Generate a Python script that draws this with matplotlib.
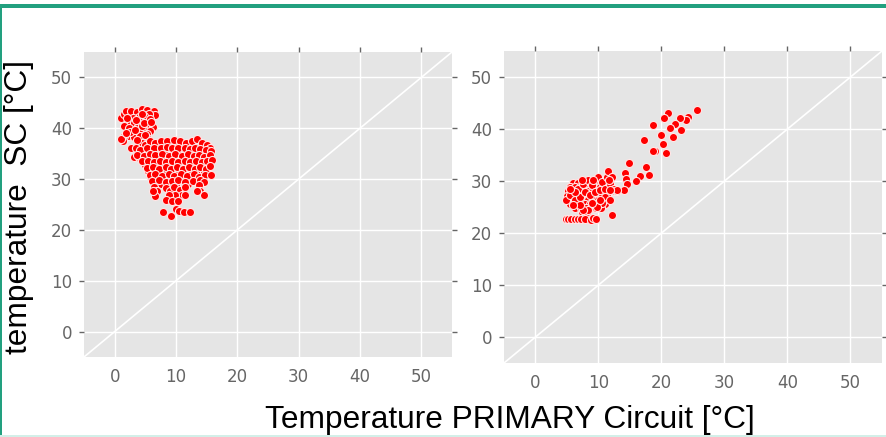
import matplotlib
matplotlib.use("Agg")
import matplotlib.pyplot as plt
from matplotlib.patches import Rectangle

# ---------------- data ----------------
ticks = [0, 10, 20, 30, 40, 50]
limits = [-5, 55]
diag = [-5, 55]

# left panel (head)
left_head_x = [1.1, 1.6, 1.9, 2.7, 3.6, 4.4, 5.3, 6.4, 6.5, 5.6, 4.8, 3.9, 3.0, 2.2, 3.1, 4.2,
               5.3, 6.3, 1.5, 2.3, 3.7, 4.8, 5.7, 3.9, 2.9, 2.1, 3.1, 1.5, 1.4, 1.1, 4.2, 5.3,
               5.3, 4.5, 3.6, 2.7, 3.4, 3.1, 3.9,
               2.0, 3.5, 4.5, 5.8, 2.5, 4.4, 1.8, 3.3, 4.8, 6.0, 5.0]
left_head_y = [42.0, 42.8, 43.3, 43.4, 43.1, 43.7, 43.5, 43.4, 42.6, 42.8, 42.5, 42.2, 42.1, 41.4, 41.0, 41.3,
               40.7, 40.3, 40.5, 40.1, 40.0, 39.7, 39.5, 39.2, 38.7, 38.4, 38.2, 38.4, 37.4, 37.9, 38.4, 38.8,
               38.0, 37.1, 37.7, 36.1, 36.1, 34.4, 34.4,
               42.0, 41.6, 42.8, 41.8, 39.3, 40.5, 39.0, 39.6, 41.0, 41.2, 38.6]

# left panel (body rows)
left_body_x = [5.0, 5.8, 6.6, 7.5, 8.5, 9.6, 10.7, 11.7, 12.6, 13.4, 14.2, 15.1, 15.6,
               4.2, 5.3, 6.4, 7.5, 8.5, 9.4, 10.4, 11.5, 12.3, 13.1, 13.9, 14.9, 15.7,
               3.7, 4.8, 5.7, 6.6, 7.7, 8.8, 9.9, 11.0, 11.9, 12.9, 13.8, 14.6, 15.5,
               4.5, 5.4, 6.4, 7.4, 8.3, 9.4, 10.3, 11.4, 12.3, 13.3, 14.2, 15.1, 15.8,
               5.3, 6.3, 7.2, 8.3, 9.2, 10.2, 11.1, 12.1, 13.1, 13.9, 14.9, 15.6,
               5.7, 6.6, 7.7, 8.8, 9.7, 10.8, 11.8, 12.9, 13.8, 14.8, 15.7,
               6.1, 7.2, 8.3, 9.4, 10.4, 11.5, 12.8, 13.9, 14.6]
left_body_y = [36.7, 37.4, 37.1, 37.4, 37.5, 37.7, 37.4, 37.1, 37.4, 37.9, 37.1, 36.7, 36.1,
               35.7, 36.1, 36.2, 36.1, 36.4, 36.1, 36.2, 36.1, 35.9, 36.1, 35.9, 35.7, 35.5,
               34.8, 34.6, 34.9, 34.8, 34.9, 34.6, 34.9, 34.6, 34.9, 34.6, 34.8, 34.4, 34.8,
               33.5, 33.6, 33.3, 33.6, 33.3, 33.6, 33.3, 33.6, 33.3, 33.6, 33.3, 33.6, 33.8,
               32.1, 32.3, 32.0, 32.3, 32.0, 32.3, 32.0, 32.3, 32.0, 32.3, 32.0, 32.5,
               30.8, 31.0, 30.7, 31.0, 30.7, 31.0, 30.7, 31.0, 30.5, 30.8, 30.8,
               29.7, 29.8, 29.4, 29.7, 29.8, 29.4, 29.7, 29.8, 29.4]

# left panel (dense filler inside the body)
left_fill_x = [6.0, 7.0, 8.0, 9.0, 10.0, 11.0, 12.0, 13.0, 14.0, 15.0,
               4.5, 5.5, 6.5, 7.5, 8.5, 9.5, 10.5, 11.5, 12.5, 13.5, 14.5,
               4.0, 5.0, 6.0, 7.0, 8.0, 9.0, 10.0, 11.0, 12.0, 13.0, 14.0, 15.0,
               5.0, 6.0, 7.0, 8.0, 9.0, 10.0, 11.0, 12.0, 13.0, 14.0, 15.3,
               5.5, 6.5, 7.5, 8.5, 9.5, 10.5, 11.5, 12.5, 13.5, 14.5,
               6.0, 7.0, 8.0, 9.0, 10.0, 11.0, 12.0, 13.0,
               6.5, 7.5, 8.5, 10.0, 12.0]
left_fill_y = [36.8, 36.8, 36.8, 36.8, 36.8, 36.8, 36.8, 36.8, 36.8, 36.8,
               35.4, 35.4, 35.4, 35.4, 35.4, 35.4, 35.4, 35.4, 35.4, 35.4, 35.4,
               34.1, 34.1, 34.1, 34.1, 34.1, 34.1, 34.1, 34.1, 34.1, 34.1, 34.1, 34.1,
               32.8, 32.8, 32.8, 32.8, 32.8, 32.8, 32.8, 32.8, 32.8, 32.8, 32.8,
               31.5, 31.5, 31.5, 31.5, 31.5, 31.5, 31.5, 31.5, 31.5, 31.5,
               30.2, 30.2, 30.2, 30.2, 30.2, 30.2, 30.2, 30.2,
               29.0, 29.0, 29.0, 29.0, 29.0]

# left panel (legs and lowest points)
left_legs_x = [6.4, 6.9, 6.6, 6.2, 8.3, 9.1, 9.6, 10.7, 11.5, 11.0, 9.9, 8.8, 8.3, 9.4, 10.4,
               11.5, 13.7, 13.9, 14.6, 13.4,
               7.9, 9.2, 10.0, 10.5, 11.3, 12.3]
left_legs_y = [28.5, 27.6, 26.6, 27.6, 28.3, 27.6, 28.5, 27.9, 28.5, 26.9, 26.9, 26.9, 25.9, 25.7, 25.7,
               26.9, 28.9, 27.6, 26.9, 27.6,
               23.6, 22.8, 24.1, 23.7, 23.6, 23.5]

# right panel (sparse upper branch)
right_upper_x = [25.6, 24.2, 23.9, 22.9, 22.1, 23.1, 21.1, 20.4, 21.3, 21.9, 20.0, 18.7, 20.2,
                 17.3, 19.0, 18.6, 20.7, 17.5, 18.0, 16.6, 16.0, 14.9, 14.2, 14.4, 14.5, 14.0,
                 12.2, 11.5, 12.2, 11.6, 12.5, 12.9, 11.8]
right_upper_y = [43.7, 42.4, 41.7, 42.1, 41.0, 39.8, 43.0, 42.1, 40.2, 38.4, 38.9, 40.8, 37.1,
                 37.9, 35.7, 35.7, 35.4, 32.7, 31.1, 30.9, 30.0, 33.4, 31.6, 30.4, 29.5, 28.3,
                 23.4, 32.0, 30.8, 30.1, 28.5, 28.2, 28.2]

# right panel (main cluster, distinct dots)
right_cluster_x = [4.9, 5.5, 6.3, 7.1, 6.8, 7.6, 8.4, 10.0, 10.5, 9.0, 7.9, 8.7, 9.5, 10.3, 11.1,
                   11.8, 11.1, 11.8, 10.5, 9.7, 8.4, 7.6, 7.1, 6.0, 8.9, 10.3, 6.3, 5.5, 7.4, 9.2,
                   11.3,
                   4.8, 5.2, 5.7, 6.2, 6.7, 7.2, 7.9, 8.8, 9.1, 9.6]
right_cluster_y = [26.3, 27.3, 26.3, 26.9, 28.5, 29.5, 30.1, 30.8, 29.8, 29.2, 27.9, 27.3, 27.9, 28.2, 28.5,
                   29.5, 26.9, 26.3, 25.7, 25.0, 24.4, 24.4, 25.3, 25.3, 25.7, 26.3, 27.9, 28.5, 30.1, 30.1,
                   30.8,
                   22.7, 22.7, 22.7, 22.7, 22.7, 22.7, 22.7, 22.5, 22.8, 22.7]

# right panel (dense filler)
right_fill_x = [6.0, 6.8, 7.6, 8.5, 9.3, 10.2, 11.0,
                5.5, 6.3, 7.1, 7.9, 8.7, 9.5, 10.3, 11.1, 11.9,
                5.2, 6.0, 6.8, 7.6, 8.4, 9.2, 10.0, 10.8, 11.6, 12.6, 13.0,
                5.0, 5.8, 6.6, 7.4, 8.2, 9.0, 9.8, 10.6, 11.4,
                5.2, 6.0, 6.8, 7.6, 8.4, 9.2, 10.0, 10.8, 11.6,
                5.5, 6.3, 7.1, 7.9, 8.7, 9.5, 10.3, 11.1,
                6.3, 7.2, 8.0, 8.8, 9.6, 10.4,
                7.4, 8.2]
right_fill_y = [29.6, 29.6, 29.6, 29.6, 29.6, 29.6, 29.6,
                28.8, 28.8, 28.8, 28.8, 28.8, 28.8, 28.8, 28.8, 28.8,
                28.0, 28.0, 28.0, 28.0, 28.0, 28.0, 28.0, 28.0, 28.0, 28.0, 28.0,
                27.2, 27.2, 27.2, 27.2, 27.2, 27.2, 27.2, 27.2, 27.2,
                26.4, 26.4, 26.4, 26.4, 26.4, 26.4, 26.4, 26.4, 26.4,
                25.6, 25.6, 25.6, 25.6, 25.6, 25.6, 25.6, 25.6,
                24.8, 24.8, 24.8, 24.8, 24.8, 24.8,
                24.0, 24.0]

xlabel = "Temperature PRIMARY Circuit [°C]"
ylabel = "temperature  SC [°C]"

# ---------------- figure ----------------
W, H = 887, 437
fig = plt.figure(figsize=(W / 100, H / 100), dpi=100)
fig.patch.set_facecolor("white")


def px_axes(x0, y0, x1, y1):
    return fig.add_axes([x0 / W, (H - y1) / H, (x1 - x0) / W, (y1 - y0) / H])


axL = px_axes(84, 52, 452, 357)
axR = px_axes(504, 51, 882, 363)

tick_col = "#666666"


def style(ax):
    ax.set_facecolor("#E5E5E5")
    for s in ax.spines.values():
        s.set_visible(False)
    ax.set_xlim(limits)
    ax.set_ylim(limits)
    ax.set_xticks(ticks)
    ax.set_yticks(ticks)
    ax.grid(True, color="white", linewidth=1.0)
    ax.set_axisbelow(True)
    ax.tick_params(axis="x", which="both", top=True, bottom=False, labelbottom=True,
                   labeltop=False, direction="out", length=3.6, width=1.0, color=tick_col,
                   labelcolor=tick_col, labelsize=12, pad=4.4)
    ax.tick_params(axis="y", which="both", left=True, right=True, labelleft=True,
                   labelright=False, direction="out", length=3.6, width=1.0, color=tick_col,
                   labelcolor=tick_col, labelsize=12, pad=5.0)
    ax.plot(diag, diag, color="white", linewidth=1.2, zorder=1.5)


style(axL)
style(axR)

mk = dict(s=34, c="#FF0000", edgecolors="#FFE8E8", linewidths=0.8, zorder=3)
for xs, ys in [(left_fill_x, left_fill_y), (left_head_x, left_head_y),
               (left_body_x, left_body_y), (left_legs_x, left_legs_y)]:
    axL.scatter(xs, ys, **mk)
for xs, ys in [(right_fill_x, right_fill_y), (right_cluster_x, right_cluster_y),
               (right_upper_x, right_upper_y)]:
    axR.scatter(xs, ys, **mk)

fig.text(510 / W, (H - 428) / H, xlabel, ha="center", va="baseline",
         fontsize=22.8, family=["Liberation Sans", "DejaVu Sans"], color="black")
fig.text(19 / W, (H - 207) / H, ylabel, ha="center", va="center", rotation=90,
         fontsize=22.8, family=["Liberation Sans", "DejaVu Sans"], color="black")

# teal frame
fig.patches.append(Rectangle((0, (H - 8) / H), 1, 4 / H, transform=fig.transFigure,
                             facecolor="#22A07F", edgecolor="none"))
fig.patches.append(Rectangle((0, 0), 2 / W, (H - 4) / H, transform=fig.transFigure,
                             facecolor="#22A07F", edgecolor="none"))
fig.patches.append(Rectangle((0, 0), 1, 2 / H, transform=fig.transFigure,
                             facecolor="#D3EFE8", edgecolor="none"))

fig.savefig("out.png", dpi=100)
